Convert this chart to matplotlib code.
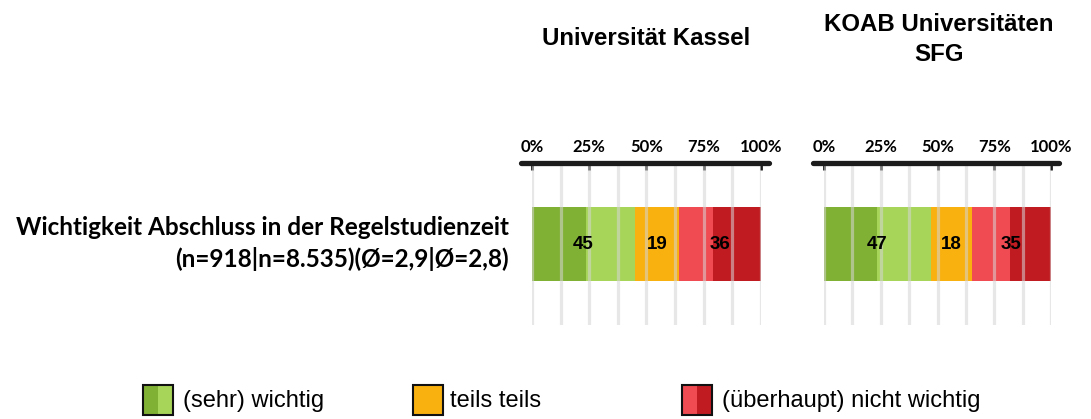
import matplotlib.pyplot as plt
from matplotlib.patches import Rectangle

# Daten
panels = ['Universität Kassel', 'KOAB Universitäten\nSFG']
kategorien = ['(sehr) wichtig', 'teils teils', '(überhaupt) nicht wichtig']
# Teilsegmente (dunkel/hell) je Kategorie, in %
gruen = [[23.5, 21.5], [23.5, 23.5]]
orange = [[19], [18]]
rot = [[15, 21], [17, 18]]
beschriftung = [[45, 19, 36], [47, 18, 35]]
ticks = [0, 25, 50, 75, 100]
tick_labels = ['0%', '25%', '50%', '75%', '100%']
frage = 'Wichtigkeit Abschluss in der Regelstudienzeit\n(n=918|n=8.535)(Ø=2,9|Ø=2,8)'

farben_gruen = ['#80b034', '#a7d55a']
farben_orange = ['#f8b10e']
farben_rot = ['#f04b52', '#bf1b21']

fig = plt.figure(figsize=(10.91, 4.19), dpi=100)

achsen = [fig.add_axes([0.4876, 0.2243, 0.2099, 0.3866]),
          fig.add_axes([0.7553, 0.2243, 0.2081, 0.3866])]

for i, ax in enumerate(achsen):
    links = 0
    gruppen = [(gruen[i], farben_gruen), (orange[i], farben_orange), (rot[i], farben_rot)]
    for k, (werte, farben) in enumerate(gruppen):
        start = links
        for w, f in zip(werte, farben):
            ax.barh(0.5, w, left=links, height=0.46, color=f, zorder=2)
            links += w
        ax.text((start + links) / 2, 0.5, str(beschriftung[i][k]), ha='center', va='center',
                fontsize=13.5, fontweight='bold', family='Liberation Sans', zorder=4)

    # Gitterlinien
    for g in range(9):
        ax.axvline(g * 12.5, color='#d5d5d5', lw=2.3, alpha=0.55, zorder=3)

    # Achsenlinie oben
    ax.plot([-4.8, 103.5], [1, 1], color='#1c1c1c', lw=3.8, solid_capstyle='round',
            clip_on=False, zorder=5)

    ax.set_xlim(0, 100)
    ax.set_ylim(0, 1)
    ax.xaxis.tick_top()
    ax.set_xticks(ticks)
    ax.set_xticklabels(tick_labels, fontsize=12, fontweight='bold', family='Lato')
    ax.tick_params(axis='x', direction='in', length=5, width=2, color='#1c1c1c', pad=6)
    ax.set_yticks([])
    for s in ax.spines.values():
        s.set_visible(False)

fig.text(0.5926, 0.909, panels[0], ha='center', va='center', fontsize=17.3,
         fontweight='bold', family='Liberation Sans')
fig.text(0.8607, 0.906, panels[1], ha='center', va='center', fontsize=17.3,
         fontweight='bold', family='Liberation Sans', linespacing=1.37)

fig.text(0.4666, 0.42, frage, ha='right', va='center', fontsize=17.5, fontweight='bold',
         family='Lato', multialignment='right', linespacing=1.4)

# Legende
leg_farben = [farben_gruen, farben_orange, farben_rot]
leg_x = [143, 413, 682]
leg_text_x = [183, 450, 722]
for x, tx, name, farben in zip(leg_x, leg_text_x, kategorien, leg_farben):
    breite = 30 / len(farben)
    for j, f in enumerate(farben):
        fig.patches.append(Rectangle(((x + j * breite) / 1091, 1 - 415 / 419), breite / 1091,
                                     30 / 419, transform=fig.transFigure, color=f, lw=0))
    fig.patches.append(Rectangle((x / 1091, 1 - 415 / 419), 30 / 1091, 30 / 419,
                                 transform=fig.transFigure, fill=False, ec='#111111', lw=1.5))
    fig.text(tx / 1091, 1 - 401 / 419, name, ha='left', va='center', fontsize=17,
             family='Liberation Sans')

plt.savefig('out.png', dpi=100)
